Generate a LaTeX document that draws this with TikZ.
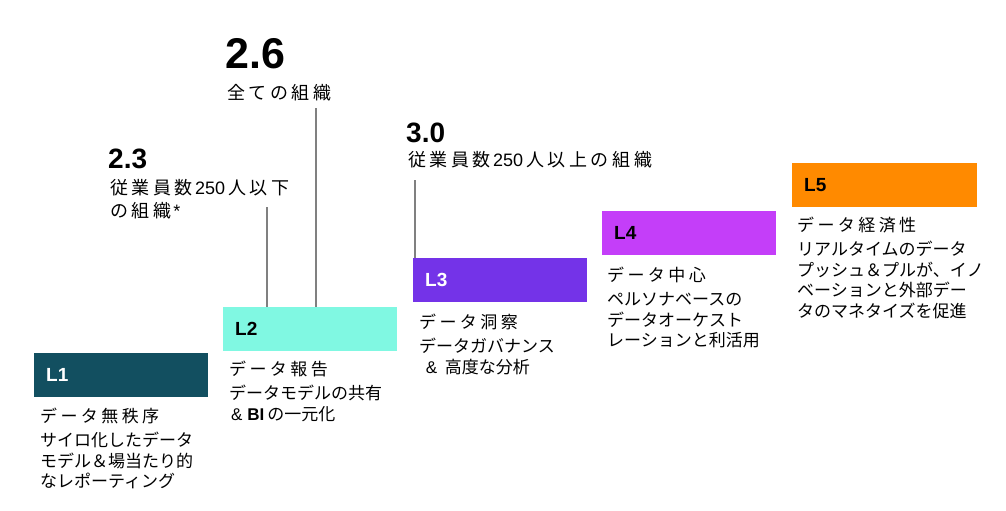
\documentclass[tikz,border=0pt]{standalone}
\usepackage{fontspec}
\setmainfont{Liberation Sans}
\newfontfamily\jp{Noto Sans CJK JP}
\newfontfamily\jpsp[LetterSpace=20]{Noto Sans CJK JP}
\usepackage{tikz}
\usetikzlibrary{positioning, calc}
\definecolor{lvone}{HTML}{124F60}
\definecolor{lvtwo}{HTML}{80F8E2}
\definecolor{lvthree}{HTML}{7433E8}
\definecolor{lvfour}{HTML}{C43EF9}
\definecolor{lvfive}{HTML}{FF8A00}
\definecolor{statgray}{HTML}{808080}
\newcommand{\latn}[1]{\hspace{2pt}{\rmfamily #1}\hspace{3pt}}

\begin{document}
\begin{tikzpicture}[
    x=1pt, y=-1pt,
    lvbox/.style={
        rectangle, draw=none, anchor=north west,
        minimum height=44pt, text width=150pt, inner xsep=12pt, inner ysep=0pt,
        align=left, font=\fontsize{19}{19}\selectfont\bfseries
    },
    desc/.style={anchor=north west, inner sep=0pt, align=left,
        font=\fontsize{17}{20.5}\selectfont\jp},
    bignum/.style={anchor=base west, inner sep=0pt,
        font=\fontsize{28}{28}\selectfont\bfseries},
    subtxt/.style={anchor=north west, inner sep=0pt, align=left,
        font=\fontsize{18}{23}\selectfont\jpsp},
    statline/.style={draw=statgray, line width=2pt},
]

\fill[white] (0,0) rectangle (1006,511);
\useasboundingbox (0,0) rectangle (1006,511);

%% ============ MATURITY LEVELS ============

\node[lvbox, fill=lvone, text=white] (lv1) at (34,353) {L1};
\node[lvbox, fill=lvtwo] (lv2) at (223,307) {L2};
\node[lvbox, fill=lvthree, text=white] (lv3) at (413,258) {L3};
\node[lvbox, fill=lvfour] (lv4) at (602,211) {L4};
\node[lvbox, fill=lvfive, text width=161pt] (lv5) at (792,163) {L5};

%% ============ DESCRIPTIONS ============

\node[desc] (desc1) at (40,408) {
    {\jpsp データ無秩序}\\[3.5pt]
    サイロ化したデータ\\
    モデル＆場当たり的\\
    なレポーティング
};

\node[desc] (desc2) at (229,361) {
    {\jpsp データ報告}\\[3.5pt]
    データモデルの共有\\
    \latn{\& \textbf{BI}}の一元化
};

\node[desc] (desc3) at (419,314) {
    {\jpsp データ洞察}\\[3.5pt]
    データガバナンス\\
    \latn{\ \&\ }高度な分析
};

\node[desc] (desc4) at (607,267) {
    {\jpsp データ中心}\\[3.5pt]
    ペルソナベースの\\
    データオーケスト\\
    レーションと利活用
};

\node[desc] (desc5) at (797,217) {
    {\jpsp データ経済性}\\[3.5pt]
    リアルタイムのデータ\\
    プッシュ＆プルが、イノ\\
    ベーションと外部デー\\
    タのマネタイズを促進
};

%% ============ SCORES ============

\node[bignum, font=\fontsize{43}{43}\selectfont\bfseries] (stat26) at (225,68) {2.6};
\node[subtxt] (sub26) at (227,84) {全ての組織};

\node[bignum] (stat23) at (108,168) {2.3};
\node[subtxt] (sub23) at (110,179) {従業員数\latn{250}人以下\\の組織\latn{*}};

\node[bignum] (stat30) at (406,142) {3.0};
\node[subtxt] (sub30) at (408,151) {従業員数\latn{250}人以上の組織};

% score -> level leader lines
\coordinate (tip23) at (267,207);
\coordinate (tip26) at (316,108);
\coordinate (tip30) at (415,180);
\draw[statline] (tip23) -- (tip23 |- lv2.north);
\draw[statline] (tip26) -- (tip26 |- lv2.north);
\draw[statline] (tip30) -- (tip30 |- lv3.north);

\end{tikzpicture}
\end{document}
